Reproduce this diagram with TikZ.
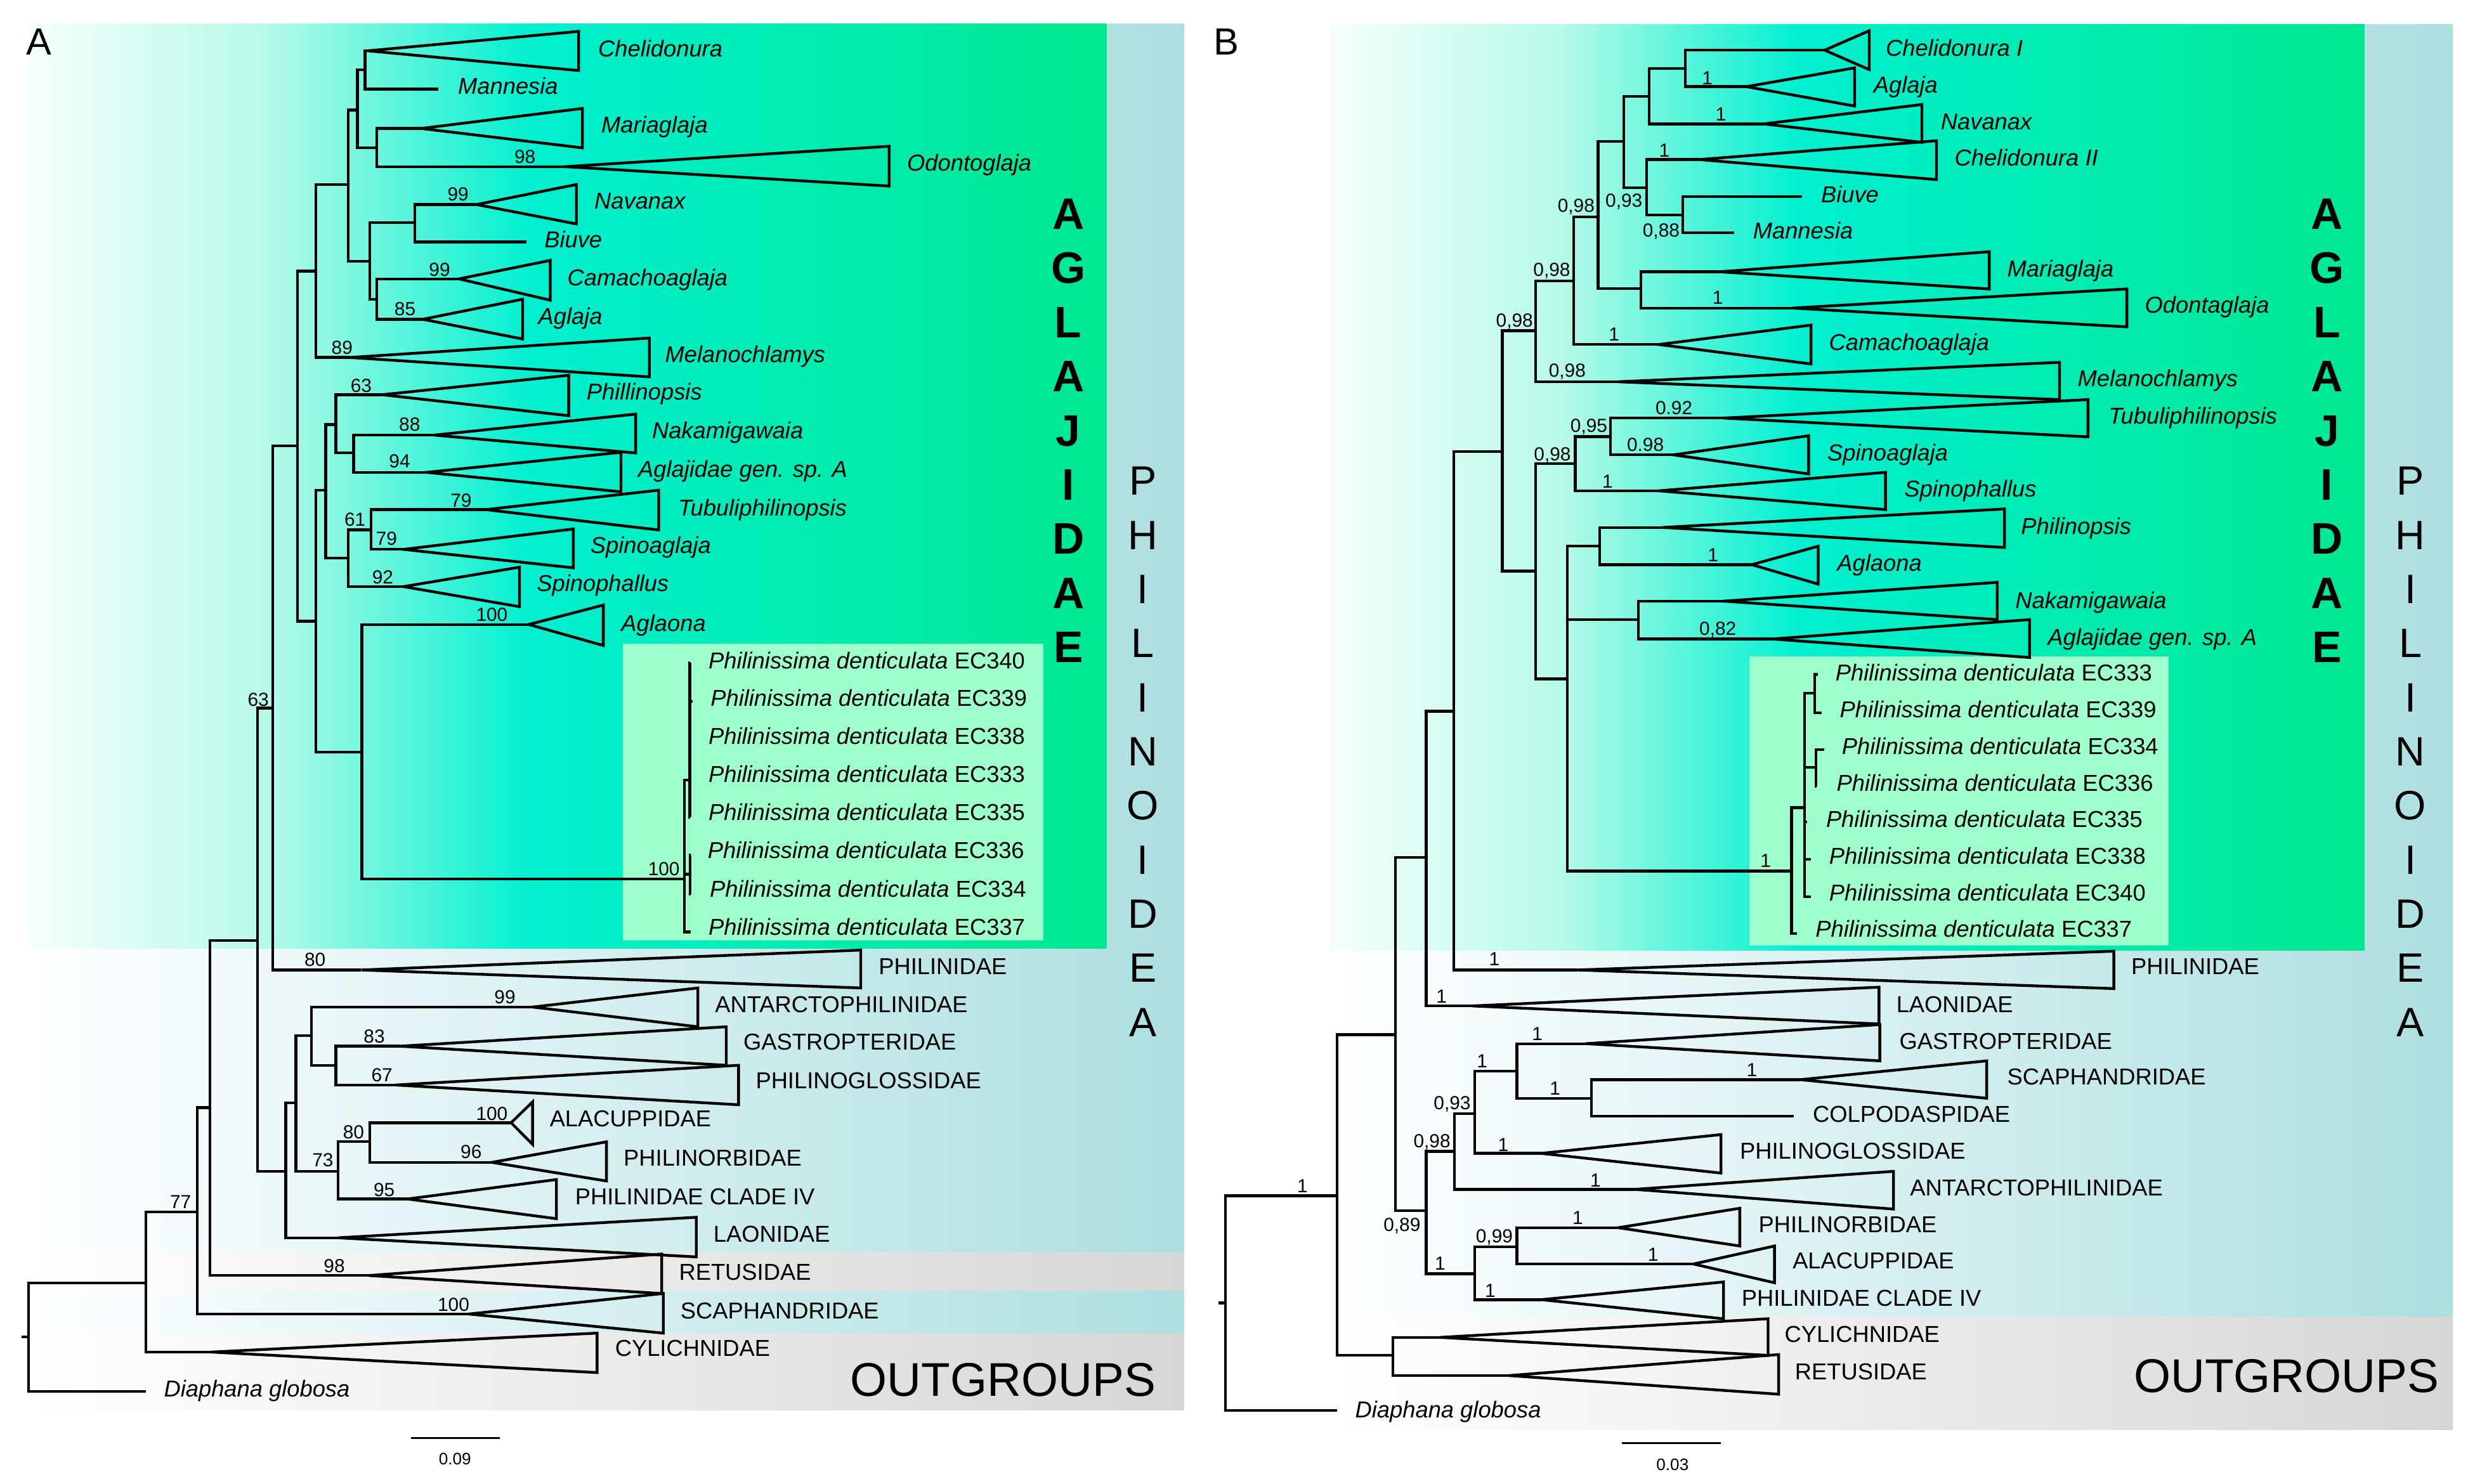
\documentclass[tikz,border=0pt]{standalone}
\usepackage{fontspec}
\setmainfont{Liberation Sans}
\definecolor{gW}{RGB}{246,255,252}
\definecolor{gP}{RGB}{181,250,231}
\definecolor{gC}{RGB}{0,240,208}
\definecolor{gG}{RGB}{0,232,144}
\definecolor{tl}{RGB}{173,223,224}
\definecolor{gy}{RGB}{214,214,214}
\definecolor{mint}{RGB}{157,255,203}
\newcommand\mybr[4]{\coordinate (#2) at (#3,#4); \draw[br] (#1) |- (#2);}
\newcommand\mytri[7]{\coordinate (#2) at (#3,#4); \draw[br] (#1) |- (#2); \draw[br] (#2) -- (#5,#6) -- (#5,#7) -- cycle;}
\tikzset{
  br/.style={line width=1.75pt},
  lab/.style={anchor=west, inner sep=0pt, font=\fontsize{14.6}{16}\selectfont, text height=10.4pt, text depth=0pt},
  ilab/.style={lab, font=\fontsize{14.6}{16}\selectfont\itshape},
  sup/.style={inner sep=0pt, font=\fontsize{12}{13}\selectfont, text height=8.6pt, text depth=0pt},
  bigA/.style={inner sep=0pt, font=\fontsize{28}{28}\selectfont\bfseries, text height=20pt, text depth=0pt},
  bigP/.style={inner sep=0pt, font=\fontsize{26}{26}\selectfont, text height=18.6pt, text depth=0pt},
  outg/.style={inner sep=0pt, font=\fontsize{30}{30}\selectfont, text height=21.5pt, text depth=0pt},
  panel/.style={inner sep=0pt, font=\fontsize{24}{24}\selectfont, text height=17.2pt, text depth=0pt},
  scl/.style={inner sep=0pt, font=\fontsize{10.5}{11}\selectfont, text height=7.5pt, text depth=0pt},
  sbar/.style={line width=1.2pt}
}
\begin{document}
\begin{tikzpicture}[x=1pt,y=-1pt]
\useasboundingbox (0,0) rectangle (1568,940);
% ---------------- backgrounds panel A
\fill[left color=white, right color=tl] (18,15.2) rectangle (750,794);
\fill[left color=white, right color=gy] (18,794) rectangle (750,818.5);
\fill[left color=white, right color=tl] (18,818.5) rectangle (750,845);
\fill[left color=white, right color=gy] (18,845) rectangle (750,893.6);
\fill[left color=gW, right color=gP] (18,15.2) rectangle (170.5,601);
\fill[left color=gP, right color=gC] (170,15.2) rectangle (336.5,601);
\fill[left color=gC, right color=gG] (336,15.2) rectangle (701,601);
\fill[mint] (394.5,407.9) rectangle (661.2,595.8);
% ---------------- backgrounds panel B
\fill[left color=white, right color=tl] (843,15.4) rectangle (1553.7,834.4);
\fill[left color=white, right color=gy] (843,834.4) rectangle (1553.7,906);
\fill[left color=gW, right color=gP] (843,15.4) rectangle (990.5,602);
\fill[left color=gP, right color=gC] (990,15.4) rectangle (1140.5,602);
\fill[left color=gC, right color=gG] (1140,15.4) rectangle (1498,602);
\fill[mint] (1108.3,415.9) rectangle (1374,599);

% ---------------- panel labels
\node[panel] (pA) at (24.5,26) {A};
\node[panel] (pB) at (777,26) {B};

% ================= TREE A
\coordinate (rA) at (18,847.2);
\coordinate (rAs) at (13.5,847.2);
\draw[br] (rAs) -- (rA);
\mybr{rA}{a77}{92.5}{812.8}
\mybr{rA}{aDia}{92.5}{881.6}
\mytri{a77}{aCyl}{133.9}{856.7}{378.3}{844.7}{869.7}
\mybr{a77}{a2}{125.1}{767.9}
\mytri{a2}{aSca}{297}{832.6}{420.2}{819.6}{844.7}
\mybr{a2}{a3}{132.9}{701.8}
\mytri{a3}{aRet}{233.7}{808.2}{419.2}{794.6}{819.6}
\mybr{a3}{a63}{163.1}{595.9}
\mybr{a63}{a5}{172.9}{448.6}
\mytri{a5}{aPhd}{228.8}{614.6}{545.3}{602}{626}
\mybr{a5}{a7}{188.4}{282.5}
\mybr{a7}{a8}{200.1}{171.8}
\mytri{a8}{aMel}{221.5}{226.5}{411.4}{214.2}{238.8}
\mybr{a8}{a10}{220.6}{116.9}
\mybr{a10}{a11}{226.4}{69.7}
\mybr{a11}{a13}{231.3}{44.1}
\mytri{a13}{aChe}{233}{32.2}{366.6}{19.9}{44.7}
\mybr{a13}{aMan}{277.5}{56.4}
\mybr{a11}{a14}{238.6}{93.7}
\mytri{a14}{aMar}{266.8}{81.4}{369}{68.7}{93.7}
\mytri{a14}{aOdo}{357.9}{105.6}{563.3}{92.7}{117.9}
\mybr{a10}{a12}{234.2}{165.6}
\mybr{a12}{a15}{262.9}{141}
\mytri{a15}{aNav}{301.9}{129.6}{365.2}{116.9}{141.9}
\mybr{a15}{aBiu}{333.5}{153.3}
\mybr{a12}{a16}{238.6}{189.6}
\mytri{a16}{aCam}{290.7}{176.7}{348.6}{165}{190.2}
\mytri{a16}{aAgl}{267.8}{202.3}{331.1}{189.6}{214.8}
\mybr{a7}{a9}{200.1}{393.6}
\mybr{a9}{a17}{206.4}{310.6}
\mybr{a17}{a19}{212.8}{269}
\mytri{a19}{aPhp}{242}{250.1}{360.3}{237.8}{263.4}
\mybr{a19}{a21}{224}{287}
\mytri{a21}{aNak}{275.1}{275.7}{402.7}{262.4}{287}
\mytri{a21}{aGsp}{270.2}{299.3}{393.4}{286.6}{311.6}
\mybr{a17}{a20}{220.6}{353.7}
\mybr{a20}{a22}{235.2}{335.8}
\mytri{a22}{aTub}{307.7}{322.9}{417.3}{310.6}{335.8}
\mytri{a22}{aSpa}{255.6}{348.1}{363.2}{335.2}{359.8}
\mytri{a20}{aSph}{255.6}{371.7}{329.1}{359.4}{384.4}
\mybr{a9}{a18}{229.3}{476.7}
\mytri{a18}{aAgo}{335}{395.7}{382.2}{383.4}{409}
\mybr{a18}{aP}{433.6}{557}
\mybr{aP}{aQ}{437}{494.3}
\mybr{aQ}{aE340}{437.4}{420}
\mybr{aQ}{aE339}{439}{444.5}
\mybr{aQ}{aE338}{437.4}{466.5}
\mybr{aQ}{aE333}{437.4}{490.5}
\mybr{aQ}{aE335}{437.4}{517.8}
\mybr{aP}{aR}{437.3}{553.9}
\mybr{aR}{aE336}{437.8}{541.9}
\mybr{aR}{aE334}{437.8}{566.6}
\mybr{aP}{aE337}{437.8}{590.5}
\mybr{a63}{a6}{181.1}{742.2}
\mytri{a6}{aLao}{214.2}{784.3}{441.1}{771.3}{796.4}
\mybr{a6}{a24}{187.5}{698.9}
\mybr{a24}{a25}{197.2}{656.3}
\mytri{a25}{aAnt}{337.4}{638.1}{442.1}{626}{650.6}
\mybr{a25}{a26}{212.8}{675}
\mytri{a26}{aGas}{253.2}{662.9}{460.1}{650.6}{675}
\mytri{a26}{aPgl}{250.7}{687.5}{467.9}{675}{700}
\mybr{a24}{a27}{214.2}{742.2}
\mybr{a27}{a28}{234.2}{723.3}
\mytri{a28}{aAla}{323.8}{711.4}{337.4}{698.2}{725.1}
\mytri{a28}{aPob}{311.6}{736.5}{384.2}{723.5}{748.3}
\mytri{a27}{aCl4}{258.1}{759.7}{352.5}{747.4}{772.2}

% labels A
\node[ilab] (lAche) at (378.8,30.8) {Chelidonura};
\node[ilab] (lAman) at (290,54.3) {Mannesia};
\node[ilab] (lAmar) at (380.8,78.9) {Mariaglaja};
\node[ilab] (lAodo) at (574.5,103.1) {Odontoglaja};
\node[ilab] (lAnav) at (376.4,127.1) {Navanax};
\node[ilab] (lAbiu) at (344.7,151.7) {Biuve};
\node[ilab] (lAcam) at (359.3,175.9) {Camachoaglaja};
\node[ilab] (lAagl) at (340.8,200.3) {Aglaja};
\node[ilab] (lAmel) at (421.2,224.5) {Melanochlamys};
\node[ilab] (lAphp) at (371.5,248) {Phillinopsis};
\node[ilab] (lAnak) at (412.9,272.7) {Nakamigawaia};
\node[ilab] (lAgsp) at (404.1,297.3) {Aglajidae gen. sp. A};
\node[ilab] (lAtub) at (429.4,321.5) {Tubuliphilinopsis};
\node[ilab] (lAspa) at (373.9,345.5) {Spinoaglaja};
\node[ilab] (lAsph) at (339.9,369.7) {Spinophallus};
\node[ilab] (lAago) at (393.4,394.7) {Aglaona};
\node[lab] (lA340) at (448.7,418.6) {\textit{Philinissima denticulata} EC340};
\node[lab] (lA339) at (450,442.4) {\textit{Philinissima denticulata} EC339};
\node[lab] (lA338) at (448.7,466.4) {\textit{Philinissima denticulata} EC338};
\node[lab] (lA333) at (448.7,490.4) {\textit{Philinissima denticulata} EC333};
\node[lab] (lA335) at (448.7,514.6) {\textit{Philinissima denticulata} EC335};
\node[lab] (lA336) at (448.2,538.8) {\textit{Philinissima denticulata} EC336};
\node[lab] (lA334) at (449.5,563.2) {\textit{Philinissima denticulata} EC334};
\node[lab] (lA337) at (448.7,587.4) {\textit{Philinissima denticulata} EC337};
\node[lab] (lAphd) at (556.5,612.3) {PHILINIDAE};
\node[lab] (lAant) at (452.8,636.2) {ANTARCTOPHILINIDAE};
\node[lab] (lAgas) at (470.8,660.2) {GASTROPTERIDAE};
\node[lab] (lApgl) at (478.6,684.5) {PHILINOGLOSSIDAE};
\node[lab] (lAala) at (348.1,708.7) {ALACUPPIDAE};
\node[lab] (lApob) at (394.9,733.5) {PHILINORBIDAE};
\node[lab] (lAcl4) at (364.2,758.1) {PHILINIDAE CLADE IV};
\node[lab] (lAlao) at (451.8,782) {LAONIDAE};
\node[lab] (lAret) at (430,806) {RETUSIDAE};
\node[lab] (lAsca) at (430.9,830.5) {SCAPHANDRIDAE};
\node[lab] (lAcyl) at (389.5,854.2) {CYLICHNIDAE};
\node[ilab] (lAdia) at (103.7,880) {Diaphana globosa};

% support A
\node[sup] (sA1) at (332.6,99) {98};
\node[sup] (sA2) at (290.2,123) {99};
\node[sup] (sA3) at (278.5,170.6) {99};
\node[sup] (sA4) at (256.6,195.6) {85};
\node[sup] (sA5) at (216.7,220.2) {89};
\node[sup] (sA6) at (228.8,244.2) {63};
\node[sup] (sA7) at (259.5,268.6) {88};
\node[sup] (sA8) at (253.2,292.1) {94};
\node[sup] (sA9) at (292.1,316.8) {79};
\node[sup] (sA10) at (224.9,329.1) {61};
\node[sup] (sA11) at (244.9,341) {79};
\node[sup] (sA12) at (242.5,365.6) {92};
\node[sup] (sA13) at (311.6,389.5) {100};
\node[sup] (sA14) at (420.6,550.3) {100};
\node[sup] (sA15) at (163.6,443.1) {63};
\node[sup] (sA16) at (199.6,607.8) {80};
\node[sup] (sA17) at (319.9,631.7) {99};
\node[sup] (sA18) at (237.1,656.7) {83};
\node[sup] (sA19) at (242,681.1) {67};
\node[sup] (sA20) at (311.6,705.7) {100};
\node[sup] (sA21) at (224,717.1) {80};
\node[sup] (sA22) at (298.5,729.6) {96};
\node[sup] (sA23) at (204.5,734.9) {73};
\node[sup] (sA24) at (243.4,753.6) {95};
\node[sup] (sA25) at (114.4,761.5) {77};
\node[sup] (sA26) at (211.8,802) {98};
\node[sup] (sA27) at (287.3,826.5) {100};

% big labels A
\foreach \l [count=\i from 0] in {A,G,L,A,J,I,D,A,E}
  \node[bigA] (agA\i) at (676.8,135.3+34.3*\i) {\l};
\foreach \l [count=\i from 0] in {P,H,I,L,I,N,O,I,D,E,A}
  \node[bigP] (phA\i) at (724,304.4+34.3*\i) {\l};
\node[outg] (ogA) at (635.4,873.7) {OUTGROUPS};
% scale A
\coordinate (scA1) at (260.5,911.2);
\coordinate (scA2) at (316.5,911.2);
\draw[sbar] (scA1) -- (scA2);
\node[scl] (scAl) at (288.2,924.4) {0.09};

% ================= TREE B
\coordinate (rB) at (776.3,825.6);
\coordinate (rBs) at (772,825.6);
\draw[br] (rBs) -- (rB);
\mybr{rB}{b1}{847.1}{757.6}
\mybr{rB}{bDia}{847.1}{893.6}
\mybr{b1}{bOut}{882.5}{858.8}
\mytri{bOut}{bCyl}{912.3}{847.4}{1120.1}{835.6}{858.8}
\mytri{bOut}{bRet}{955.9}{871.6}{1126.8}{858.3}{883.4}
\mybr{b1}{b2}{884.1}{655.6}
\mybr{b2}{b3}{903.6}{543.3}
\mytri{b3}{bLao}{932.8}{637.4}{1190.4}{625.5}{648.8}
\mybr{b3}{b5}{921}{450.6}
\mytri{b5}{bPhd}{999.5}{614.6}{1339.2}{602.7}{626.4}
\mybr{b5}{b6}{951.8}{286}
\mybr{b6}{b7}{972.8}{209.5}
\mytri{b7}{bMel}{1025.2}{241.9}{1304.8}{229.6}{253.2}
\mybr{b7}{b9}{997}{177.9}
\mytri{b9}{bCam}{1050.8}{218.3}{1147.3}{206}{230.6}
\mybr{b9}{b10}{1012.4}{137.4}
\mybr{b10}{b11}{1028.8}{89.6}
\mybr{b11}{b13}{1044.7}{61}
\mytri{b13}{bNav}{1117.5}{78.5}{1217.6}{66.2}{90.2}
\mybr{b13}{b15}{1067.8}{43.4}
\mytri{b15}{bCh1}{1156}{31.8}{1184.2}{19.5}{44.1}
\mytri{b15}{bAgl}{1106.3}{54.9}{1175}{43}{67.2}
\mybr{b11}{b14}{1043.1}{118.9}
\mytri{b14}{bCh2}{1076.5}{101.1}{1226.8}{89.2}{113.8}
\mybr{b14}{b16}{1066.2}{136.3}
\mybr{b16}{bBiu}{1141.6}{124.6}
\mybr{b16}{bMan}{1098.6}{147.6}
\mybr{b10}{b12}{1039.5}{182.9}
\mytri{b12}{bMar}{1089.3}{172.2}{1260.2}{159.5}{183.1}
\mytri{b12}{bOdo}{1135.5}{195.2}{1347.4}{183.1}{207.1}
\mybr{b6}{b8}{972.8}{361.9}
\mybr{b8}{b17}{997.9}{293.8}
\mybr{b17}{b19}{1020.4}{276.6}
\mytri{b19}{bTub}{1091.9}{264.9}{1322.8}{253.2}{276.8}
\mytri{b19}{bSpa}{1060.1}{288.2}{1145.8}{276.1}{300.3}
\mytri{b17}{bSph}{1050.8}{311}{1194.5}{299.3}{322.9}
\mybr{b8}{b18}{992.9}{430.1}
\mybr{b18}{b20}{1013.4}{346.1}
\mytri{b20}{bPhp}{1053.4}{334.2}{1269.9}{322.5}{346.9}
\mytri{b20}{bAgo}{1109.8}{357.8}{1151.9}{346.1}{370.1}
\mybr{b18}{b21}{1038}{392.6}
\mytri{b21}{bNak}{1091.9}{380.9}{1265.3}{369}{392.6}
\mytri{b21}{bGsp}{1122.7}{404.9}{1285.8}{392.6}{416.6}
\mybr{b18}{bP}{1135}{551.9}
\mybr{bP}{bQ}{1143.3}{511.7}
\mybr{bP}{bE337}{1138.6}{591.4}
\mybr{bQ}{bR}{1149.7}{439.1}
\mybr{bR}{bE333}{1151.7}{427.3}
\mybr{bR}{bE339}{1154}{451.7}
\mybr{bQ}{bS}{1150.4}{486.3}
\mybr{bS}{bE334}{1155.8}{474.9}
\mybr{bS}{bE336}{1151}{498.3}
\mybr{bQ}{bE335}{1145}{520.8}
\mybr{bQ}{bE338}{1147.3}{544.5}
\mybr{bQ}{bE340}{1147.3}{568.2}
\mybr{b2}{b4}{903.6}{767.2}
\mybr{b4}{b22}{921.5}{729.6}
\mytri{b22}{bAnt}{1035.4}{753.6}{1199.6}{742.2}{766.1}
\mybr{b22}{b24}{934.4}{705.7}
\mytri{b24}{bPgl}{976.4}{730.8}{1090.3}{718.9}{743.3}
\mybr{b24}{b25}{961}{678.8}
\mytri{b25}{bGas}{1004.7}{661.3}{1190.9}{649.2}{672.2}
\mybr{b25}{b26}{1008.2}{695.9}
\mytri{b26}{bSca}{1140.6}{684.1}{1258.6}{672.2}{695.9}
\mybr{b26}{bCol}{1136.5}{707.3}
\mybr{b4}{b23}{934.4}{807.1}
\mybr{b23}{b27}{961}{790}
\mytri{b27}{bPob}{1025.2}{777.9}{1102.2}{765.6}{789.5}
\mytri{b27}{bAla}{1072.9}{800.9}{1124.2}{789.5}{812.8}
\mytri{b23}{bCl4}{976.4}{823.5}{1091.9}{812.3}{835.6}

% labels B
\node[ilab] (lBch1) at (1194.5,30.3) {Chelidonura I};
\node[ilab] (lBagl) at (1186.8,53.7) {Aglaja};
\node[ilab] (lBnav) at (1229.4,76.9) {Navanax};
\node[ilab] (lBch2) at (1238.1,100) {Chelidonura II};
\node[ilab] (lBbiu) at (1153.5,123) {Biuve};
\node[ilab] (lBman) at (1110.4,146.2) {Mannesia};
\node[ilab] (lBmar) at (1271.5,170.2) {Mariaglaja};
\node[ilab] (lBodo) at (1358.7,193.3) {Odontaglaja};
\node[ilab] (lBcam) at (1158.6,216.9) {Camachoaglaja};
\node[ilab] (lBmel) at (1316.1,239.9) {Melanochlamys};
\node[ilab] (lBtub) at (1335.6,263.4) {Tubuliphilinopsis};
\node[ilab] (lBspa) at (1157.6,286.6) {Spinoaglaja};
\node[ilab] (lBsph) at (1206.3,309.6) {Spinophallus};
\node[ilab] (lBphp) at (1280.2,333.2) {Philinopsis};
\node[ilab] (lBago) at (1163.7,356.8) {Aglaona};
\node[ilab] (lBnak) at (1276.6,380.3) {Nakamigawaia};
\node[ilab] (lBgsp) at (1297.1,403.5) {Aglajidae gen. sp. A};
\node[lab] (lB333) at (1162.7,426) {\textit{Philinissima denticulata} EC333};
\node[lab] (lB339) at (1165.4,449.4) {\textit{Philinissima denticulata} EC339};
\node[lab] (lB334) at (1166.7,472.9) {\textit{Philinissima denticulata} EC334};
\node[lab] (lB336) at (1163.4,495.9) {\textit{Philinissima denticulata} EC336};
\node[lab] (lB335) at (1156.7,519.1) {\textit{Philinissima denticulata} EC335};
\node[lab] (lB338) at (1158.7,542.5) {\textit{Philinissima denticulata} EC338};
\node[lab] (lB340) at (1158.7,565.6) {\textit{Philinissima denticulata} EC340};
\node[lab] (lB337) at (1150,588.7) {\textit{Philinissima denticulata} EC337};
\node[lab] (lBphd) at (1350,612.3) {PHILINIDAE};
\node[lab] (lBlao) at (1201.2,636.2) {LAONIDAE};
\node[lab] (lBgas) at (1203.2,659.5) {GASTROPTERIDAE};
\node[lab] (lBsca) at (1271.5,682.3) {SCAPHANDRIDAE};
\node[lab] (lBcol) at (1148.3,705.7) {COLPODASPIDAE};
\node[lab] (lBpgl) at (1102.1,729) {PHILINOGLOSSIDAE};
\node[lab] (lBant) at (1209.9,752.4) {ANTARCTOPHILINIDAE};
\node[lab] (lBpob) at (1114,775.9) {PHILINORBIDAE};
\node[lab] (lBala) at (1135.5,798.6) {ALACUPPIDAE};
\node[lab] (lBcl4) at (1103.2,822.3) {PHILINIDAE CLADE IV};
\node[lab] (lBcyl) at (1130.4,845.1) {CYLICHNIDAE};
\node[lab] (lBret) at (1137,869) {RETUSIDAE};
\node[ilab] (lBdia) at (858.4,893) {Diaphana globosa};

% support B
\node[sup] (sB1) at (1081.6,49.2) {1};
\node[sup] (sB2) at (1090.3,72.2) {1};
\node[sup] (sB3) at (1054.4,95.3) {1};
\node[sup] (sB4) at (998.5,130.2) {0,98};
\node[sup] (sB5) at (1028.8,126.7) {0,93};
\node[sup] (sB6) at (1052.4,145.6) {0,88};
\node[sup] (sB7) at (983.1,170.8) {0,98};
\node[sup] (sB8) at (1088.3,188.2) {1};
\node[sup] (sB9) at (959.5,203) {0,98};
\node[sup] (sB10) at (1022.6,211.6) {1};
\node[sup] (sB11) at (992.9,234.7) {0,98};
\node[sup] (sB12) at (1060.5,258.5) {0.92};
\node[sup] (sB13) at (1006.6,269.5) {0,95};
\node[sup] (sB14) at (1042.4,281.7) {0.98};
\node[sup] (sB15) at (983.5,287.5) {0,98};
\node[sup] (sB16) at (1018.4,305) {1};
\node[sup] (sB17) at (1085.2,351.6) {1};
\node[sup] (sB18) at (1088.3,398.2) {0,82};
\node[sup] (sB19) at (1118.6,545.4) {1};
\node[sup] (sB20) at (946.7,607.3) {1};
\node[sup] (sB21) at (913.3,631.2) {1};
\node[sup] (sB22) at (973.9,655.1) {1};
\node[sup] (sB23) at (939,672.2) {1};
\node[sup] (sB24) at (1109.9,677.9) {1};
\node[sup] (sB25) at (985.2,689.3) {1};
\node[sup] (sB26) at (920,698.9) {0,93};
\node[sup] (sB27) at (907.2,722.8) {0,98};
\node[sup] (sB28) at (952.3,725.1) {1};
\node[sup] (sB29) at (1010.8,747.9) {1};
\node[sup] (sB30) at (825.1,751.3) {1};
\node[sup] (sB31) at (999.5,771.3) {1};
\node[sup] (sB32) at (888.2,775.9) {0,89};
\node[sup] (sB33) at (946.7,783.2) {0,99};
\node[sup] (sB34) at (1047.3,794.6) {1};
\node[sup] (sB35) at (912.3,800.3) {1};
\node[sup] (sB36) at (944.1,817.8) {1};

% big labels B
\foreach \l [count=\i from 0] in {A,G,L,A,J,I,D,A,E}
  \node[bigA] (agB\i) at (1474.2,135.3+34.3*\i) {\l};
\foreach \l [count=\i from 0] in {P,H,I,L,I,N,O,I,D,E,A}
  \node[bigP] (phB\i) at (1527,304.4+34.3*\i) {\l};
\node[outg] (ogB) at (1448.5,871.5) {OUTGROUPS};
% scale B
\coordinate (scB1) at (1027.7,914.2);
\coordinate (scB2) at (1090.3,914.2);
\draw[sbar] (scB1) -- (scB2);
\node[scl] (scBl) at (1059.6,927.8) {0.03};
\end{tikzpicture}
\end{document}
